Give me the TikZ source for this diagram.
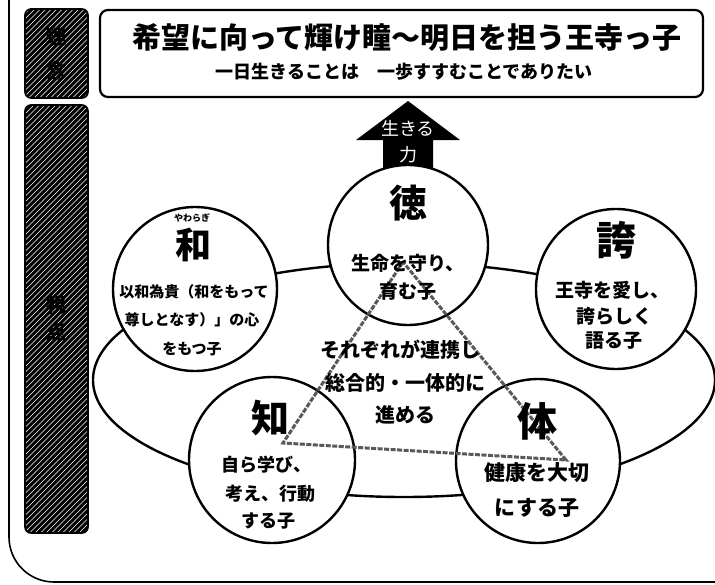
\documentclass[tikz,border=0pt]{standalone}
\usepackage{fontspec}
\newfontfamily\jp{Noto Sans CJK JP}
\tikzset{
  frameline/.style={line width=1.6pt},
  boxline/.style={draw, line width=1.6pt, rounded corners=6pt, inner sep=0pt},
  stripe/.style={white, line width=0.6pt},
  circ/.style={circle, draw, line width=2.4pt, fill=white, minimum size=#1, inner sep=0pt},
  bigch/.style={font=\jp\bfseries\fontsize{#1}{#1}\selectfont, inner sep=0pt},
  body/.style={font=\jp\bfseries\fontsize{#1}{#1}\selectfont, align=center, inner sep=0pt},
  plain/.style={font=\jp\fontsize{#1}{#1}\selectfont, align=center, inner sep=0pt},
  tri/.style={draw=black!65, line width=3pt, dash pattern=on 5pt off 1.5pt},
  lbl/.style={font=\jp\bfseries\fontsize{20}{20}\selectfont, text=black, inner sep=0pt}
}
\begin{document}
\begin{tikzpicture}[x=1pt,y=-1pt]
\useasboundingbox (0,0) rectangle (715,584);
% outer frame
\draw[frameline, rounded corners=45pt] (9,-5) -- (9,582) -- (730,582);
% label boxes (hatched)
\begin{scope}
  \clip[rounded corners=6pt] (25,9) rectangle (88,98);
  \fill[black] (25,9) rectangle (88,98);
  \foreach \k in {-200,-194.5,...,100} \draw[stripe] (\k,200) -- ++(200,-200);
\end{scope}
\begin{scope}
  \clip[rounded corners=6pt] (25,105) rectangle (88,533);
  \fill[black] (25,105) rectangle (88,533);
  \foreach \k in {-500,-494.5,...,100} \draw[stripe] (\k,540) -- ++(540,-540);
\end{scope}
\node[boxline, minimum width=63pt, minimum height=89pt] (rinen) at (56.5,53.5) {};
\node[lbl] (rinen1) at (56,37) {理};
\node[lbl] (rinen2) at (56,71) {念};
\node[boxline, minimum width=63pt, minimum height=428pt] (shiten) at (56.5,319) {};
\node[lbl] (shiten1) at (56,305) {視};
\node[lbl] (shiten2) at (56,332) {点};
% title box
\node[draw, line width=2.2pt, rounded corners=8pt, minimum width=603pt, minimum height=87pt] (title) at (401.5,53.5) {};
\node[body=29] (titletext) at (407,38) {希望に向って輝け瞳〜明日を担う王寺っ子};
\node[body=18] (subtitle) at (404,72) {一日生きることは　一歩すすむことでありたい};
% arrow
\fill (408,101) -- (460,140) -- (433,140) -- (433,170) -- (383,170) -- (383,140) -- (356,140) -- cycle;
\node[plain=18, text=white] (ikiru) at (408,128) {生きる};
\node[plain=18, text=white] (chikara) at (408,155) {力};
% ellipse ring
\draw[line width=2.4pt] (404,380) ellipse [x radius=311, y radius=117];
% circles
\node[circ=160pt] (toku) at (408,245) {};
\node[circ=164pt] (wa) at (195,289) {};
\node[circ=160pt] (hokori) at (616,289) {};
\node[circ=166pt] (chi) at (272,460) {};
\node[circ=164pt] (tai) at (538,461) {};
% triangle
\coordinate (t1) at (403,262);
\coordinate (t2) at (283,443);
\coordinate (t3) at (566,460);
\draw[tri] (t1) -- (t2) -- (t3) -- cycle;
% texts
\node[bigch=38] (tokuch) at (408,203) {徳};
\node[body=19] (tokutxt) at (408,263) {生命を守り、};
\node[body=19] (tokutxt2) at (408,291) {育む子};

\node[body=9] (waruby) at (192,218) {やわらぎ};
\node[bigch=36] (wach) at (193,245) {和};
\node[body=15] (watxt1) at (194,292) {以和為貴（和をもって};
\node[body=15] (watxt2) at (192,320) {尊しとなす）」の心};
\node[body=15] (watxt3) at (192,349) {をもつ子};

\node[bigch=40] (hokorich) at (616,240) {誇};
\node[body=19] (hokoritxt1) at (612,290) {王寺を愛し、};
\node[body=19] (hokoritxt2) at (614,316) {誇らしく};
\node[body=19] (hokoritxt3) at (614,341) {語る子};

\node[body=20] (ctr1) at (400,350) {それぞれが連携し};
\node[body=20] (ctr2) at (405,383) {総合的・一体的に};
\node[body=20] (ctr3) at (405,415) {進める};

\node[bigch=38] (chich) at (270,418) {知};
\node[body=18] (chitxt1) at (266,465) {自ら学び、};
\node[body=18] (chitxt2) at (270,494) {考え、行動};
\node[body=18] (chitxt3) at (268,521) {する子};

\node[bigch=40] (taich) at (537,421) {体};
\node[body=21] (taitxt1) at (537,473) {健康を大切};
\node[body=21] (taitxt2) at (537,508) {にする子};
\end{tikzpicture}
\end{document}
